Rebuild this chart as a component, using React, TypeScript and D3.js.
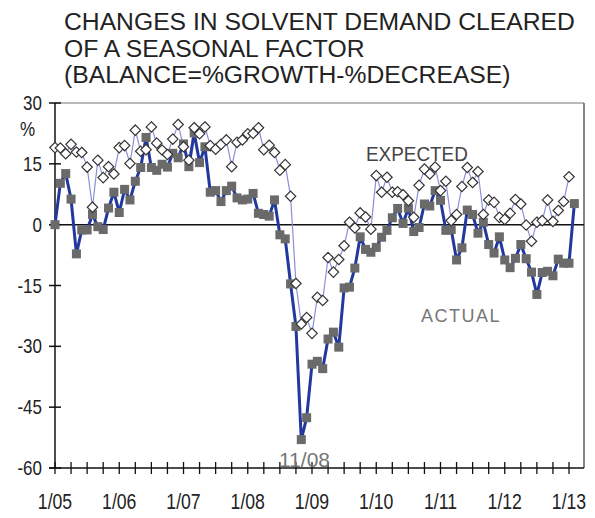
import React from "react";
import * as d3 from "d3";

const xTickLabels = ["1/05", "1/06", "1/07", "1/08", "1/09", "1/10", "1/11", "1/12", "1/13"];
const yTicks = [30, 15, 0, -15, -30, -45, -60];

// monthly, starting 1/05
const actual = [
  0, 10.2, 12.6, 6.3, -7.2, -1.3, -1.3, 2.5, -0.5, -1.2, 4.1, 8,
  3, 8.7, 6.1, 10.7, 14.1, 21.5, 14.1, 13.4, 14.9, 14.2, 17.6, 16.5,
  19.9, 14.3, 22.6, 15.3, 19.2, 8.0, 8.4, 5.7, 8.4, 9.5, 6.6, 6.1,
  6.3, 7.7, 2.8, 2.5, 2.1, 6.1, -2.5, -3.5, -14.6, -25.1, -53, -47.6,
  -34.4, -33.7, -35.5, -28.2, -26.5, -30.2, -15.6, -15.4, -10.7, -3, -6.1, -6.8,
  -5.6, -3.1, -1.4, 1.7, 4, 0.3, 4.1, -1.7, -0.7, 5.1, 4.6, 8.4,
  6, -1.4, -1.2, -8.7, -5.7, 3.6, 2.5, -2.1, 0.6, -4.9, -7, -3,
  -8.7, -10.6, -8.3, -4.9, -8.4, -11.7, -17.2, -11.8, -11.5, -12.6, -8.5, -9.5,
  -9.5, 5.2,
];

const expected = [
  19, 18.9, 17.5, 19.8, 17.9, 17.8, 14.2, 4.3, 15.9, 11.6, 14.3, 12.5,
  19, 19.5, 15.1, 23.3, 18.1, 18.5, 24.1, 20.1, 18.4, 17.3, 21.1, 24.7,
  19.2, 15.9, 23.9, 22.4, 24.1, 19.5, 18.6, 19.8, 20.9, 14.3, 20.3, 20.9,
  22.4, 22.5, 23.9, 18.5, 19.6, 17.8, 13.4, 14.8, 7, -14.5, -24.5, -22.9,
  -26.8, -17.9, -18.7, -8.1, -11.7, -8.6, -5.2, 0.6, -0.8, 2.9, 1.9, -1.1,
  12.1, 8, 11.7, 8, 8.1, 7.4, 5.9, 1.8, 9.7, 13.7, 12.5, 14.2,
  8.4, 10.7, 1, 2.5, 9.4, 14.1, 10.4, 13.1, 2.5, 6.1, 5.5, 1.8,
  1.3, 2.8, 6.2, 5.1, -0.1, -4.1, 0.6, 1, 6.1, 0.8, 3.5, 5.7,
  11.8,
];

const titleLines = [
  "CHANGES IN SOLVENT DEMAND CLEARED",
  "OF A SEASONAL FACTOR",
  "(BALANCE=%GROWTH-%DECREASE)",
];

export default function App() {
  const W = 595, H = 518;
  const left = 55, right = 584, top = 103, bottom = 468;
  const x = d3.scaleLinear().domain([0, 96]).range([left, 569]);
  const y = d3.scaleLinear().domain([-60, 30]).range([bottom, top]);

  const line = d3.line<number>().x((_, i) => x(i)).y((d) => y(d));
  const monthTicks = d3.range(0, 97, 3);
  const font = "'Liberation Sans', Arial, sans-serif";
  const sq = 9;
  const dm = 5.2;

  return (
    <svg width={W} height={H} style={{ position: "absolute", left: 0, top: 0, background: "#fff" }} fontFamily={font}>
      {titleLines.map((t, i) => (
        <text key={i} x={64} y={30 + i * 26.5} fontSize={24.7} fill="#222">{t}</text>
      ))}

      {/* frame */}
      <line x1={left} x2={right} y1={top} y2={top} stroke="#777" strokeWidth={1.2} />
      <line x1={right} x2={right} y1={top} y2={bottom} stroke="#333" strokeWidth={1.2} />
      <line x1={left} x2={left} y1={top} y2={bottom} stroke="#111" strokeWidth={1.5} />
      <line x1={left - 6} x2={right} y1={y(0)} y2={y(0)} stroke="#111" strokeWidth={1.5} />
      <line x1={left - 6} x2={right} y1={bottom} y2={bottom} stroke="#111" strokeWidth={1.5} />

      {yTicks.map((t) => (
        <g key={t}>
          <line x1={left - 6} x2={left + 6} y1={y(t)} y2={y(t)} stroke="#111" strokeWidth={1.5} />
          <text transform={`translate(42,${y(t) + 7}) scale(0.85,1)`} textAnchor="end" fontSize={20} fill="#222">{t}</text>
        </g>
      ))}
      <text transform={`translate(20,136) scale(0.85,1)`} fontSize={20} fill="#222">%</text>

      {monthTicks.map((m) => (
        <line key={m} x1={x(m)} x2={x(m)} y1={bottom - 6} y2={bottom + 6} stroke="#111" strokeWidth={1.3} />
      ))}
      {xTickLabels.map((t, i) => (
        <text key={t} transform={`translate(${x(i * 12)},509) scale(0.82,1)`} textAnchor="middle" fontSize={21.5} fill="#222">{t}</text>
      ))}

      <path d={line(expected) || ""} fill="none" stroke="#8a8fd6" strokeWidth={1.2} />
      <path d={line(actual) || ""} fill="none" stroke="#22389c" strokeWidth={3} strokeLinejoin="round" />
      {actual.map((v, i) => (
        <rect key={i} x={x(i) - sq / 2} y={y(v) - sq / 2} width={sq} height={sq} fill="#6a6a6a" />
      ))}
      {expected.map((v, i) => (
        <path key={i} d={`M${x(i)},${y(v) - dm}L${x(i) + dm},${y(v)}L${x(i)},${y(v) + dm}L${x(i) - dm},${y(v)}Z`} fill="#fff" stroke="#333" strokeWidth={1.2} />
      ))}

      <text transform="translate(366,161) scale(0.9,1)" fontSize={21} fill="#444">EXPECTED</text>
      <text x={421} y={322} fontSize={18} fill="#777" letterSpacing={1.5}>ACTUAL</text>
      <text x={279} y={467} fontSize={21} fill="#777">11/08</text>
    </svg>
  );
}
